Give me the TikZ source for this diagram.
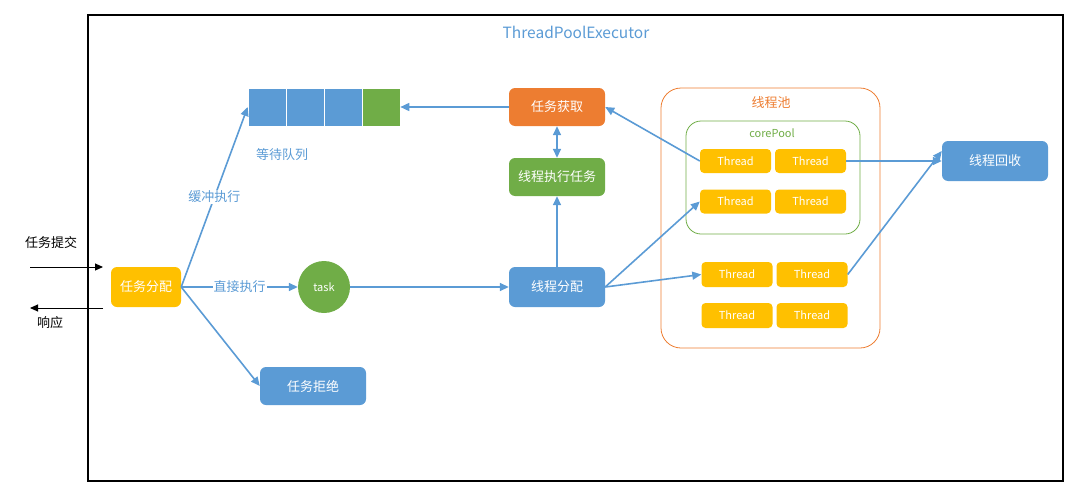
\documentclass[tikz,border=0pt]{standalone}
\usepackage{fontspec}
\setmainfont{Noto Sans CJK SC}
\usetikzlibrary{arrows.meta,positioning}
\definecolor{cblue}{HTML}{5B9BD5}
\definecolor{cgreen}{HTML}{70AD47}
\definecolor{corange}{HTML}{ED7D31}
\definecolor{cyellow}{HTML}{FFC000}
\begin{document}
\begin{tikzpicture}[x=1pt,y=-1pt,
  box/.style={rounded corners=6pt, text=white, inner sep=0pt, font=\fontsize{13}{15}\selectfont},
  thr/.style={box, fill=cyellow, minimum width=71pt, minimum height=24pt, rounded corners=4pt, font=\fontsize{11}{13}\selectfont},
  cell/.style={draw=white, line width=0.6pt, minimum width=38pt, minimum height=38pt, inner sep=0pt},
  arr/.style={draw=cblue, line width=1.6pt, -{Triangle[length=9pt,width=8pt]}},
  darr/.style={draw=cblue, line width=1.6pt, {Triangle[length=9pt,width=8pt]}-{Triangle[length=9pt,width=8pt]}},
  barr/.style={draw=black, line width=1pt, -{Triangle[length=8pt,width=7pt]}},
  lbl/.style={font=\fontsize{13}{15}\selectfont, inner sep=1pt},
  elbl/.style={lbl, fill=white, text=cblue}
]
\useasboundingbox (0,0) rectangle (1076,498);
\draw[line width=2pt] (88,15) rectangle (1063,481);
\node[lbl, text=cblue, font=\fontsize{15.5}{18}\selectfont] (title) at (576,32) {ThreadPoolExecutor};

% queue
\node[cell, fill=cblue] (q1) at (267,107) {};
\node[cell, fill=cblue] (q2) at (305,107) {};
\node[cell, fill=cblue] (q3) at (343,107) {};
\node[cell, fill=cgreen] (q4) at (381,107) {};
\node[lbl, text=cblue] (qlbl) at (282,155) {等待队列};

% nodes
\node[box, fill=cyellow, minimum width=70pt, minimum height=40pt] (dispatch) at (146,287) {任务分配};
\node[box, fill=cblue, minimum width=106pt, minimum height=38pt] (reject) at (313,386) {任务拒绝};
\node[circle, fill=cgreen, text=white, minimum size=52pt, inner sep=0pt, font=\fontsize{11}{13}\selectfont] (task) at (324,287) {task};
\node[box, fill=cblue, minimum width=96pt, minimum height=40pt] (assign) at (557,287) {线程分配};
\node[box, fill=cgreen, minimum width=96pt, minimum height=38pt] (exec) at (557,177) {线程执行任务};
\node[box, fill=corange, minimum width=96pt, minimum height=38pt] (fetch) at (557,107) {任务获取};
\node[box, fill=cblue, minimum width=106pt, minimum height=40pt] (recycle) at (995,161) {线程回收};

% pools
\node[draw=corange, line width=0.8pt, rounded corners=20pt, minimum width=219pt, minimum height=260pt] (pool) at (770.5,218) {};
\node[lbl, text=corange] (poollbl) at (771,103) {线程池};
\node[draw=cgreen, line width=0.8pt, rounded corners=15pt, minimum width=174pt, minimum height=113pt] (core) at (773,177.5) {};
\node[lbl, text=cgreen, font=\fontsize{11}{13}\selectfont] (corelbl) at (772,133) {corePool};

\node[thr] (t11) at (735.5,161) {Thread};
\node[thr] (t12) at (810.5,161) {Thread};
\node[thr] (t21) at (735.5,201.5) {Thread};
\node[thr] (t22) at (810.5,201.5) {Thread};
\node[thr, minimum height=25pt] (t31) at (737,274.5) {Thread};
\node[thr, minimum height=25pt] (t32) at (812,274.5) {Thread};
\node[thr, minimum height=25pt] (t41) at (737,315.5) {Thread};
\node[thr, minimum height=25pt] (t42) at (812,315.5) {Thread};

% left side
\coordinate (inS) at (30,267);
\coordinate (inE) at (103,267);
\coordinate (outS) at (103,308);
\coordinate (outE) at (30,308);
\draw[barr] (inS) -- (inE);
\draw[barr] (outS) -- (outE);
\node[lbl] (submit) at (51,243) {任务提交};
\node[lbl] (resp) at (50,323) {响应};

% connectors
\draw[arr] (dispatch.east) -- node[elbl, pos=0.5] {缓冲执行} (q1.west);
\draw[arr] (dispatch.east) -- node[elbl, pos=0.5] {直接执行} (task.west);
\draw[arr] (dispatch.east) -- (reject.west);
\draw[arr] (task.east) -- (assign.west);
\draw[arr] (assign.north) -- (exec.south);
\draw[darr] (fetch.south) -- (exec.north);
\draw[arr] (fetch.west) -- (q4.east);
\draw[arr] (t11.west) -- (fetch.east);
\draw[arr] (t12.east) -- (recycle.west);
\draw[arr] (t32.east) -- ([yshift=10pt]recycle.west);
\draw[arr] (assign.east) -- (t21.west);
\draw[arr] (assign.east) -- (t31.west);
\end{tikzpicture}
\end{document}
